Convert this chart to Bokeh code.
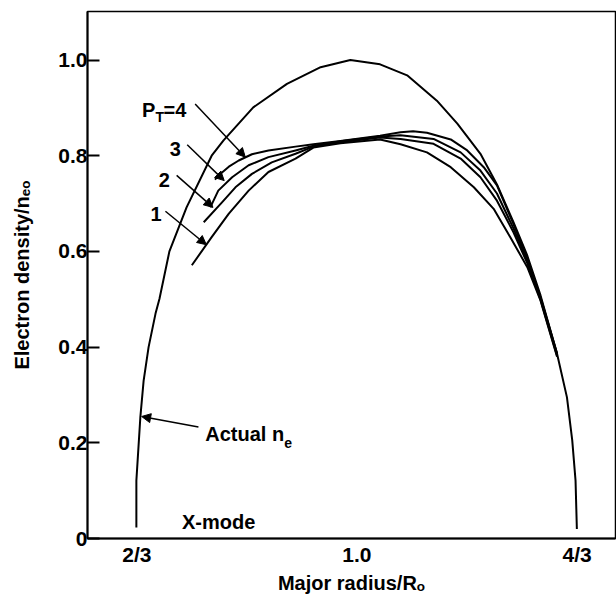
from bokeh.plotting import figure
from bokeh.models import Range1d, FixedTicker, Label, Arrow, NormalHead
from bokeh.embed import file_html
from bokeh.resources import INLINE

# ---- data ----
ACTUAL_X = [0.666, 0.666, 0.672, 0.677, 0.6845, 0.695, 0.701, 0.716, 0.742, 0.780, 0.798, 0.843, 0.894, 0.945, 0.990,
            1.035, 1.076, 1.121, 1.152, 1.187, 1.212, 1.237, 1.258, 1.278, 1.303, 1.318, 1.326, 1.331, 1.333]
ACTUAL_Y = [0.023, 0.121, 0.253, 0.330, 0.400, 0.470, 0.501, 0.600, 0.692, 0.800, 0.832, 0.901, 0.950, 0.985, 1.000,
            0.991, 0.968, 0.915, 0.867, 0.804, 0.740, 0.661, 0.591, 0.508, 0.386, 0.295, 0.205, 0.121, 0.020]

P4_X = [0.785, 0.793, 0.806, 0.821, 0.841, 0.866, 0.907, 0.934, 0.975, 1.035, 1.066, 1.085, 1.106, 1.142, 1.167,
        1.192, 1.212, 1.237, 1.258, 1.278, 1.303]
P4_Y = [0.750, 0.762, 0.777, 0.790, 0.803, 0.811, 0.819, 0.824, 0.831, 0.842, 0.849, 0.851, 0.848, 0.834, 0.811,
        0.776, 0.738, 0.657, 0.586, 0.504, 0.387]

P3_X = [0.778, 0.790, 0.811, 0.836, 0.866, 0.907, 0.934, 0.975, 1.035, 1.066, 1.116, 1.157, 1.187, 1.212, 1.237,
        1.258, 1.278, 1.303]
P3_Y = [0.692, 0.727, 0.755, 0.780, 0.797, 0.811, 0.821, 0.830, 0.840, 0.843, 0.835, 0.807, 0.769, 0.721, 0.648,
        0.581, 0.502, 0.385]

P2_X = [0.768, 0.796, 0.816, 0.841, 0.871, 0.907, 0.934, 0.975, 1.035, 1.066, 1.116, 1.157, 1.187, 1.212, 1.237,
        1.258, 1.278, 1.303]
P2_Y = [0.661, 0.703, 0.734, 0.762, 0.786, 0.804, 0.819, 0.828, 0.838, 0.835, 0.825, 0.794, 0.755, 0.706, 0.640,
        0.575, 0.499, 0.382]

P1_X = [0.750, 0.780, 0.806, 0.836, 0.866, 0.907, 0.934, 0.975, 1.035, 1.066, 1.106, 1.142, 1.177, 1.207, 1.232,
        1.258, 1.278, 1.303]
P1_Y = [0.571, 0.630, 0.679, 0.727, 0.766, 0.794, 0.817, 0.826, 0.834, 0.824, 0.807, 0.776, 0.734, 0.689, 0.630,
        0.567, 0.497, 0.380]

X_TICKS = [2 / 3, 1.0, 4 / 3]
X_TICK_LABELS = ["2/3", "1.0", "4/3"]
Y_TICKS = [0, 0.2, 0.4, 0.6, 0.8, 1.0]
Y_TICK_LABELS = ["0", "0.2", "0.4", "0.6", "0.8", "1.0"]

X_TITLE = "Major radius/R\u2092"
Y_TITLE = "Electron density/n\u2091\u2092"

# arrows: (x_start, y_start, x_end, y_end)
ARROWS = [
    (0.755, 0.908, 0.831, 0.797),   # P_T=4
    (0.743, 0.823, 0.799, 0.748),   # 3
    (0.727, 0.759, 0.782, 0.692),   # 2
    (0.710, 0.684, 0.772, 0.614),   # 1
    (0.760, 0.233, 0.674, 0.255),   # Actual n_e
]

FONT = "Liberation Sans"

p = figure(width=616, height=597, output_backend="svg", toolbar_location=None,
           x_range=Range1d(0.592, 1.3915), y_range=Range1d(0.0, 1.1014))
p.min_border_left = 87
p.min_border_right = 1
p.min_border_top = 11
p.min_border_bottom = 59
p.xgrid.visible = False
p.ygrid.visible = False
p.outline_line_color = "black"
p.outline_line_width = 1.5
p.background_fill_color = "white"
p.border_fill_color = "white"

# axes
p.xaxis.ticker = FixedTicker(ticks=X_TICKS)
p.xaxis.major_label_overrides = {t: l for t, l in zip(X_TICKS, X_TICK_LABELS)}
p.xaxis.major_tick_in = 0
p.xaxis.major_tick_out = 0
p.xaxis.minor_tick_line_color = None
p.xaxis.axis_line_width = 2
p.xaxis.major_label_standoff = 4
p.xaxis.axis_label = X_TITLE
p.xaxis.axis_label_standoff = 3
p.yaxis.ticker = FixedTicker(ticks=Y_TICKS)
p.yaxis.major_label_overrides = {t: l for t, l in zip(Y_TICKS, Y_TICK_LABELS)}
p.yaxis.major_tick_in = 12
p.yaxis.major_tick_out = 0
p.yaxis.major_tick_line_width = 2
p.yaxis.minor_tick_line_color = None
p.yaxis.axis_line_width = 2
p.yaxis.major_label_standoff = 0
p.yaxis.axis_label = Y_TITLE
p.yaxis.axis_label_standoff = 22
for ax in (p.xaxis, p.yaxis):
    ax.major_label_text_font = FONT
    ax.major_label_text_font_style = "bold"
    ax.major_label_text_font_size = "21px"
    ax.major_label_text_color = "black"
    ax.axis_label_text_font = FONT
    ax.axis_label_text_font_style = "bold"
    ax.axis_label_text_font_size = "20px"
    ax.axis_label_text_color = "black"
    ax.axis_line_color = "black"
    ax.major_tick_line_color = "black"

# curves
for xs, ys in [(ACTUAL_X, ACTUAL_Y), (P4_X, P4_Y), (P3_X, P3_Y), (P2_X, P2_Y), (P1_X, P1_Y)]:
    p.line(xs, ys, line_color="black", line_width=2, line_join="round")

# arrows
for xs, ys, xe, ye in ARROWS:
    p.add_layout(Arrow(x_start=xs, y_start=ys, x_end=xe, y_end=ye, line_width=1.5, line_color="black",
                       end=NormalHead(size=9, fill_color="black", line_color="black")))


def lab(text, x, y, size="20px", align="left"):
    p.add_layout(Label(x=x, y=y, text=text, text_font=FONT, text_font_style="bold", text_font_size=size,
                       text_color="black", text_align=align, text_baseline="alphabetic"))


# curve labels
lab("P", 0.6744, 0.8945)
lab("T", 0.6948, 0.8805, size="14px")
lab("=4", 0.7071, 0.8945)
lab("3", 0.7248, 0.8144, align="center")
lab("2", 0.7082, 0.7482, align="center")
lab("1", 0.6958, 0.6786, align="center")
lab("Actual n", 0.7703, 0.2188)
lab("e", 0.890, 0.2006, size="14px")
lab("X-mode", 0.735, 0.0355)

open("out.html", "w").write(file_html(p, INLINE))
